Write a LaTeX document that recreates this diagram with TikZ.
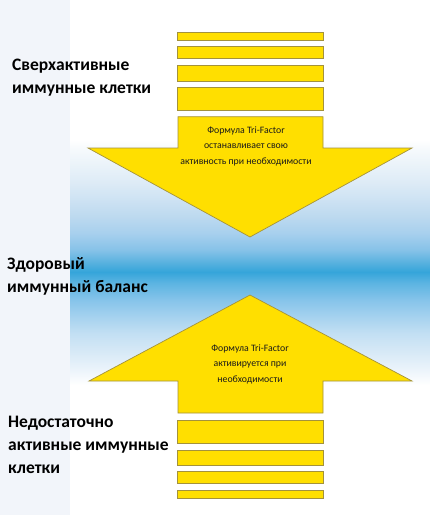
\documentclass[tikz,border=0pt]{standalone}
\usepackage{fontspec}
\setmainfont{Carlito}
\usetikzlibrary{positioning, calc}
\definecolor{arrowfill}{HTML}{FFDF00}
\definecolor{arrowline}{HTML}{A3923C}
\definecolor{stripbg}{HTML}{F2F5FA}
\definecolor{txtdark}{HTML}{1A1A1A}
% band colours, from the edges towards the middle
\definecolor{bandA}{HTML}{F5F9FC}
\definecolor{bandB}{HTML}{DDEBF6}
\definecolor{bandC}{HTML}{CDE2F3}
\definecolor{bandD}{HTML}{BCD9EF}
\definecolor{bandE}{HTML}{A8D0EE}
\definecolor{bandF}{HTML}{86C2E8}
\definecolor{bandG}{HTML}{4FAEDD}
\definecolor{bandblue}{HTML}{35A5DA}
\definecolor{bandH}{HTML}{5CB4E2}
\definecolor{bandI}{HTML}{86C4EA}
\definecolor{bandJ}{HTML}{A6D2EF}
\definecolor{bandK}{HTML}{C2DFF3}
\definecolor{bandL}{HTML}{D5E8F6}
\definecolor{bandM}{HTML}{E8F2FA}

% vertical band: path is mapped to 25bp..75bp, bottom first
\pgfdeclareverticalshading{balanceband}{100bp}{%
  color(0bp)=(white); color(25bp)=(white); color(26bp)=(white);
  color(29.6bp)=(bandM); color(33bp)=(bandL); color(36.4bp)=(bandK);
  color(39.6bp)=(bandJ); color(43bp)=(bandI); color(46.4bp)=(bandH);
  color(48.6bp)=(bandblue); color(50bp)=(bandG); color(53bp)=(bandF);
  color(56.4bp)=(bandE); color(59.6bp)=(bandD); color(63bp)=(bandC);
  color(66.4bp)=(bandB); color(73bp)=(bandA);
  color(75bp)=(white); color(100bp)=(white)}

\begin{document}
\begin{tikzpicture}[
    x=1pt, y=-1pt,
    yellowpart/.style={
        fill=arrowfill, draw=arrowline, line width=0.7pt, line join=miter
    },
    sidelbl/.style={
        font=\fontsize{17.5}{23}\selectfont\bfseries, align=left,
        anchor=west, inner sep=0pt, text=black
    },
    arrowlbl/.style={
        font=\fontsize{9.8}{15.5}\selectfont, align=center,
        inner sep=0pt, text=txtdark
    }
]

% Page and background
\useasboundingbox (0,0) rectangle (430,515);
\fill[white] (0,0) rectangle (430,515);
\fill[stripbg] (0,0) rectangle (70,515);
\shade[shading=balanceband] (70,140) rectangle (430,390);

% -- Upper part: overactive cells pressed down --
\foreach \ytop/\ybot in {32.7/40.7, 46.7/58.3, 65.7/81, 87.7/110} {
    \draw[yellowpart] (177,\ytop) rectangle (323,\ybot);
}
% Arrow pointing down to the balance
\draw[yellowpart] (178,116.7) -- (323,116.7) -- (323,148) -- (412,148)
    -- (250,237) -- (88,148) -- (178,148) -- cycle;
\node[arrowlbl] (stoptext) at (246,146)
    {Формула Tri-Factor\\останавливает свою\\активность при необходимости};

% -- Lower part: weak cells pushed up --
\draw[yellowpart] (178,413) -- (323,413) -- (323,381) -- (412,381)
    -- (250,295) -- (89,381) -- (178,381) -- cycle;
\node[arrowlbl] (starttext) at (250,364)
    {Формула Tri-Factor\\активируется при\\необходимости};
\foreach \ytop/\ybot in {420.7/443, 450/465, 471.7/483, 490.7/498} {
    \draw[yellowpart] (177,\ytop) rectangle (323,\ybot);
}

% Side labels
\node[sidelbl] (overactive) at (12,78) {Сверхактивные\\иммунные клетки};
\node[sidelbl] (balance) at (7,276.5) {Здоровый\\иммунный баланс};
\node[sidelbl] (weak) at (8,445) {Недостаточно\\активные иммунные\\клетки};

\end{tikzpicture}
\end{document}
